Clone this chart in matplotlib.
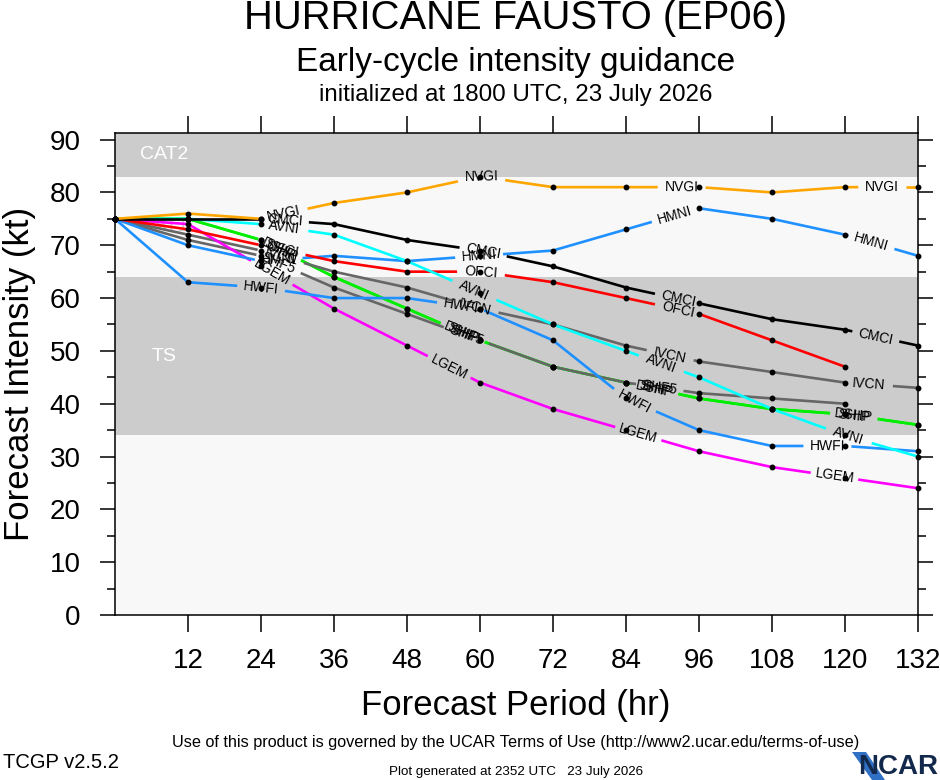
import numpy as np
import matplotlib.pyplot as plt
from matplotlib.patches import Polygon

plt.rcParams['font.family'] = ['Liberation Sans', 'DejaVu Sans']

# forecast hours and intensities (kt) per model
hours = [0, 12, 24, 36, 48, 60, 72, 84, 96, 108, 120, 132]
ship = [75, 75, 71, 64, 58, 52, 47, 44, 41, 39, 38, 36]
dshp = [75, 75, 71, 64, 58, 52, 47, 44, 41, 39, 38, 36]
shf5 = [75, 71, 68, 62, 57, 52, 47, 44, 42, 41, 40]
ivcn = [75, 72, 69, 65, 62, 58, 55, 51, 48, 46, 44, 43]
lgem = [75, 74, 66, 58, 51, 44, 39, 35, 31, 28, 26, 24]
hwfi = [75, 63, 62, 60, 60, 58, 52, 41, 35, 32, 32, 31]
hmni = [75, 70, 67, 68, 67, 68, 69, 73, 77, 75, 72, 68]
ofci = [75, 73, 70, 67, 65, 65, 63, 60, 57, 52, 47]
avni = [75, 75, 74, 72, 67, 61, 55, 50, 45, 39, 34, 30]
cmci = [75, 75, 75, 74, 71, 69, 66, 62, 59, 56, 54, 51]
nvgi = [75, 76, 75, 78, 80, 83, 81, 81, 81, 80, 81, 81]

# intensity categories (kt)
band_names = ['TD', 'TS', 'CAT1', 'CAT2']
band_low = [0, 34, 64, 83]
band_high = [34, 64, 83, 96]

LABEL_START = 170   # px along the line to the first label
LABEL_STEP = 201    # px between labels
GAP = 24            # half width of the hole for a label


def draw_model(ax, name, values, color):
    x = np.array(hours[:len(values)], float)
    y = np.array(values, float)
    pts = ax.transData.transform(np.column_stack([x, y]))
    seg = np.hypot(*np.diff(pts, axis=0).T)
    cum = np.concatenate([[0.0], np.cumsum(seg)])
    total = cum[-1]

    def at(s):
        return np.array([np.interp(s, cum, pts[:, 0]), np.interp(s, cum, pts[:, 1])])

    spots = []
    s = LABEL_START
    while s + GAP <= total:
        spots.append(s)
        s += LABEL_STEP

    edges = [0.0]
    for s in spots:
        edges += [s - GAP, s + GAP]
    edges.append(total)
    inv = ax.transData.inverted()
    for a, b in zip(edges[::2], edges[1::2]):
        inner = pts[(cum > a) & (cum < b)]
        piece = inv.transform(np.vstack([at(a), inner, at(b)]))
        ax.plot(piece[:, 0], piece[:, 1], color=color, lw=1.9,
                solid_capstyle='butt', zorder=3, clip_on=False)
    for s in spots:
        p0, p1 = at(s - GAP), at(s + GAP)
        ang = np.degrees(np.arctan2(p1[1] - p0[1], p1[0] - p0[0]))
        c = inv.transform(at(s))
        ax.text(c[0], c[1], name, rotation=ang, rotation_mode='anchor',
                ha='center', va='center', fontsize=10, zorder=5)
    ax.plot(x, y, 'o', color='black', ms=3.2, zorder=6, clip_on=False)


fig = plt.figure(figsize=(9.4, 7.8), dpi=100)
ax = fig.add_axes([115 / 940, 165 / 780, 803 / 940, 482 / 780])
ax.set_xlim(0, 132)
ax.set_ylim(0, 91.25)

band_fill = ['#f8f8f8', '#cccccc', '#f8f8f8', '#cccccc']
band_text = [None, 'white', '#cccccc', 'white']
for name, lo, hi, fc, tc in zip(band_names, band_low, band_high, band_fill, band_text):
    ax.axhspan(lo, hi, color=fc, lw=0, zorder=0)
    if tc:
        mid = (lo + min(hi, 91.25)) / 2
        ax.text(8, mid, name, color=tc, fontsize=14, ha='center', va='center', zorder=1)

models = [('SHIP', ship, '#00ee00'), ('DSHP', dshp, '#00ee00'),
          ('SHF5', shf5, '#666666'), ('IVCN', ivcn, '#666666'),
          ('LGEM', lgem, '#ff00ff'), ('HWFI', hwfi, '#1e90ff'),
          ('HMNI', hmni, '#1e90ff'), ('OFCI', ofci, '#ff0000'),
          ('AVNI', avni, '#00ffff'), ('CMCI', cmci, 'black'),
          ('NVGI', nvgi, '#ffa500')]
for name, vals, col in models:
    draw_model(ax, name, vals, col)

ax.set_xticks(hours[1:])
ax.set_yticks(range(0, 91, 10))
ax.set_yticks(range(5, 91, 10), minor=True)
ax.tick_params(axis='x', which='major', direction='out', length=12, width=1.1,
               top=True, labelsize=20, pad=12)
ax.tick_params(axis='y', which='major', direction='out', length=10.8, width=1.1,
               right=True, labelsize=20, pad=14)
ax.tick_params(axis='y', which='minor', direction='out', length=5.8, width=1.1, right=True)
for sp in ax.spines.values():
    sp.set_linewidth(1.1)

W, H = 940, 780
def ftext(x, y, s, **kw):
    fig.text(x / W, 1 - y / H, s, **kw)

ftext(516, 18, 'HURRICANE FAUSTO (EP06)', fontsize=28.8, ha='center', va='center')
ftext(516, 62, 'Early-cycle intensity guidance', fontsize=24, ha='center', va='center')
ftext(516, 95, 'initialized at 1800 UTC, 23 July 2026', fontsize=17.4, ha='center', va='center')
ftext(516, 705, 'Forecast Period (hr)', fontsize=25, ha='center', va='center')
ftext(20, 374, 'Forecast Intensity (kt)', fontsize=25, ha='center', va='center', rotation=90)
ftext(516, 743, 'Use of this product is governed by the UCAR Terms of Use (http://www2.ucar.edu/terms-of-use)',
      fontsize=11.7, ha='center', va='center')
ftext(516, 772, 'Plot generated at 2352 UTC   23 July 2026', fontsize=9.6, ha='center', va='center')
ftext(3, 763, 'TCGP v2.5.2', fontsize=14.5, ha='left', va='center')

# NCAR logo
swoosh = Polygon([[852 / W, 1 - 752 / H], [866 / W, 1 - 752 / H], [885 / W, 1 - 780 / H], [872 / W, 1 - 780 / H]],
                 closed=True, transform=fig.transFigure, facecolor='#2f6fc4', edgecolor='none')
fig.patches.append(swoosh)
ftext(938, 767, 'NCAR', fontsize=20, ha='right', va='center', color='#13294b', fontweight='bold',
      family=['Liberation Sans Narrow', 'Liberation Sans'])

fig.savefig('out.png', dpi=100, facecolor='white')
